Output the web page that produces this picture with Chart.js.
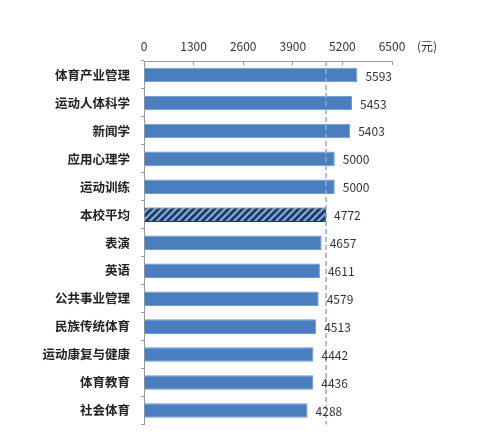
<!DOCTYPE html>
<html>
<head>
<meta charset="utf-8">
<script src="https://cdn.jsdelivr.net/npm/chart.js@4/dist/chart.umd.min.js"></script>
<style>
  html, body { margin: 0; padding: 0; background: #fff; }
  #wrap { width: 478px; height: 443px; }
</style>
</head>
<body>
<div id="wrap"><canvas id="barChart"></canvas></div>
<script>
const majors = ['体育产业管理', '运动人体科学', '新闻学', '应用心理学', '运动训练', '本校平均',
  '表演', '英语', '公共事业管理', '民族传统体育', '运动康复与健康', '体育教育', '社会体育'];
const salaries = [5593, 5453, 5403, 5000, 5000, 4772, 4657, 4611, 4579, 4513, 4442, 4436, 4288];
const averageValue = 4772;
const xTicks = [0, 1300, 2600, 3900, 5200, 6500];
const unitLabel = '(元)';

const cjkFont = "'Noto Sans CJK SC', 'Noto Sans', sans-serif";

// hatched fill for the school average bar
function makeHatch() {
  const c = document.createElement('canvas');
  c.width = 7; c.height = 7;
  const g = c.getContext('2d');
  g.fillStyle = '#1F3B64';
  g.fillRect(0, 0, 7, 7);
  g.strokeStyle = '#86A9D6';
  g.lineWidth = 2.2;
  g.beginPath();
  g.moveTo(-1, 8); g.lineTo(8, -1);
  g.moveTo(-4, 4); g.lineTo(4, -4);
  g.moveTo(3, 11); g.lineTo(11, 3);
  g.stroke();
  return g.createPattern(c, 'repeat');
}

const hatch = makeHatch();
const barFill = majors.map(m => m === '本校平均' ? hatch : '#4A7EBF');
const barBorder = majors.map(m => m === '本校平均' ? '#1F3B64' : '#6E98CF');

// dashed average line, value labels and unit text
const extras = {
  id: 'extras',
  afterDatasetsDraw(chart) {
    const ctx = chart.ctx;
    const x = chart.scales.x;
    const area = chart.chartArea;
    const ax = x.getPixelForValue(averageValue);
    ctx.save();
    ctx.strokeStyle = '#8FAACB';
    ctx.lineWidth = 1.5;
    ctx.setLineDash([5, 3]);
    ctx.beginPath();
    ctx.moveTo(ax, area.top);
    ctx.lineTo(ax, area.bottom);
    ctx.stroke();
    ctx.setLineDash([]);

    ctx.font = '12px ' + cjkFont;
    ctx.fillStyle = '#333';
    ctx.textBaseline = 'middle';
    ctx.textAlign = 'left';
    chart.getDatasetMeta(0).data.forEach((bar, i) => {
      ctx.fillText(String(salaries[i]), bar.x + 8, bar.y + 1);
    });

    ctx.fillText(unitLabel, area.right + 25, 46);
    ctx.restore();
  }
};

new Chart(document.getElementById('barChart'), {
  type: 'bar',
  data: {
    labels: majors,
    datasets: [{
      data: salaries,
      backgroundColor: barFill,
      borderColor: barBorder,
      borderWidth: 1,
      barPercentage: 0.52,
      categoryPercentage: 1
    }]
  },
  options: {
    indexAxis: 'y',
    responsive: true,
    maintainAspectRatio: false,
    animation: false,
    layout: { padding: { top: 0, right: 86, bottom: 13, left: 0 } },
    plugins: {
      legend: { display: false },
      tooltip: { enabled: false }
    },
    scales: {
      x: {
        position: 'top',
        min: 0,
        max: 6500,
        afterBuildTicks(scale) {
          scale.ticks = xTicks.map(v => ({ value: v }));
        },
        afterFit(scale) { scale.height = 61; },
        grid: { display: true, drawOnChartArea: false, drawTicks: true, tickLength: -4, color: '#999' },
        border: { display: true, color: '#999' },
        ticks: {
          color: '#333',
          padding: 11,
          font: { size: 12, family: cjkFont },
          callback: v => String(v)
        }
      },
      y: {
        afterFit(scale) { scale.width = 144; },
        grid: { display: true, offset: true, drawOnChartArea: false, tickLength: 3, color: '#999' },
        border: { display: true, color: '#999' },
        ticks: {
          color: '#222',
          padding: 11,
          font: { size: 12.5, weight: 'bold', family: cjkFont }
        }
      }
    }
  },
  plugins: [extras]
});
</script>
</body>
</html>
